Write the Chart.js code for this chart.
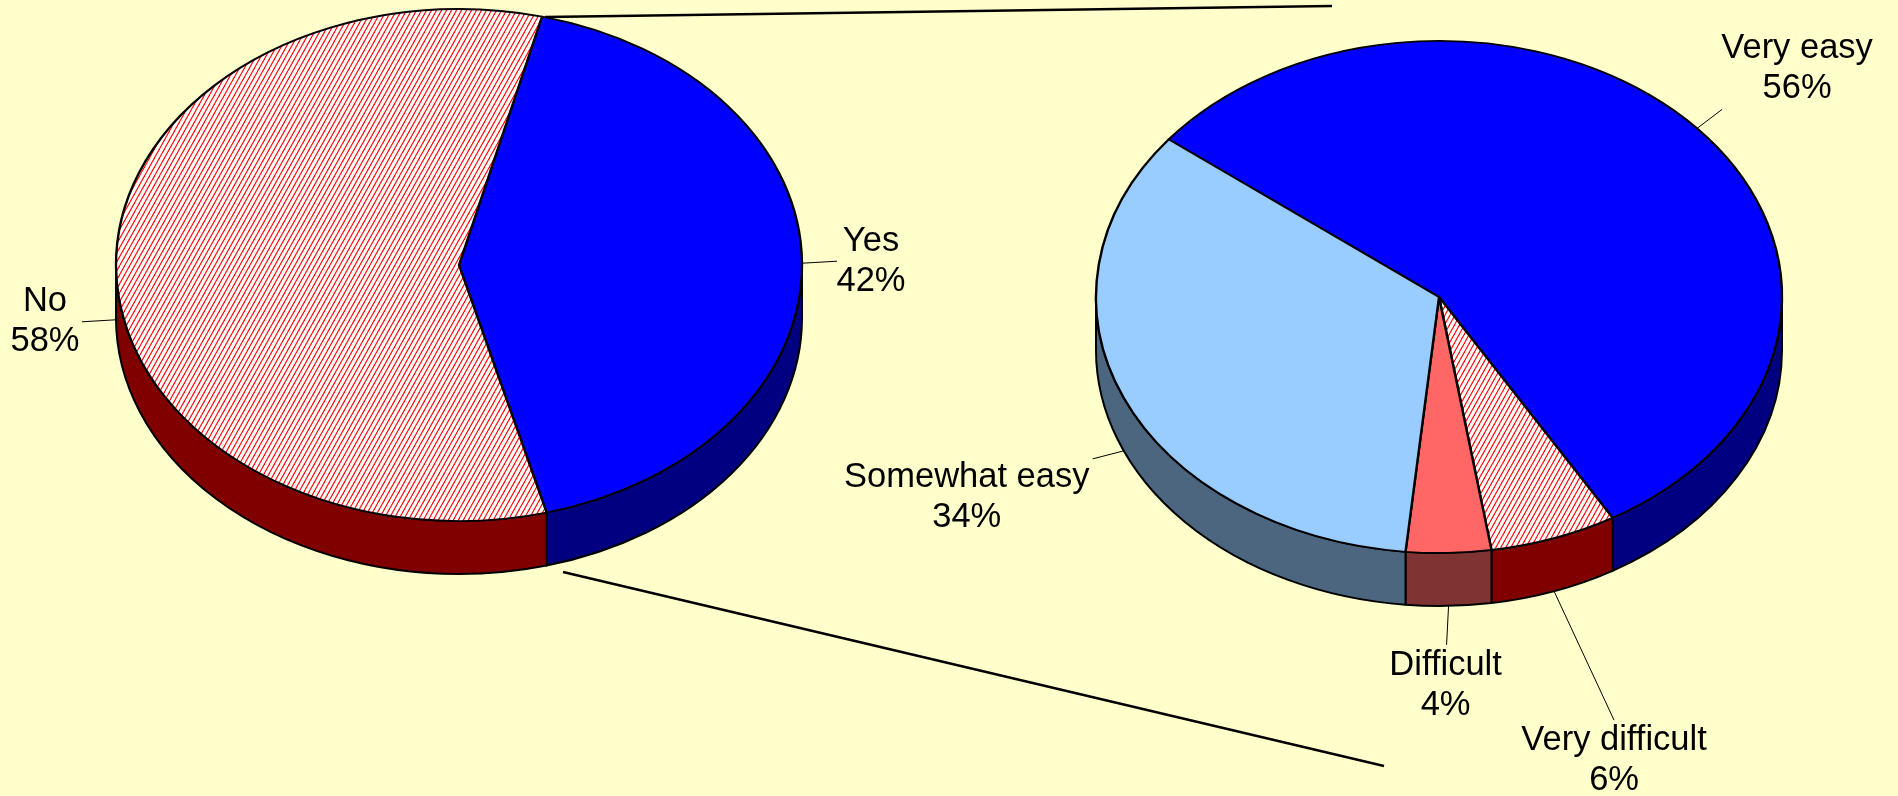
<!DOCTYPE html>
<html>
<head>
<meta charset="utf-8">
<script src="https://cdn.jsdelivr.net/npm/chart.js@4.4.1/dist/chart.umd.min.js"></script>
<style>
  html, body { margin: 0; padding: 0; background: #FFFFCC; overflow: hidden; }
  #wrap { position: relative; width: 1898px; height: 796px; }
  #wrap canvas { position: absolute; left: 0; top: 0; }
</style>
</head>
<body>
<div id="wrap">
  <canvas id="leftPie" width="1898" height="796"></canvas>
  <canvas id="rightPie" width="1898" height="796"></canvas>
</div>
<script>
// ---------- DATA ----------
const leftLabels = ["Yes", "No"];
const leftValues = [42, 58];

const rightLabels = ["Very easy", "Very difficult", "Difficult", "Somewhat easy"];
const rightValues = [56, 6, 4, 34];

// ---------- LOOK ----------
const FONT = '34.5px "Liberation Sans", Arial, sans-serif';
const RX = 343;      // outer radius (horizontal)
const RY = 256;      // flattened vertical radius
const DEPTH = 53;    // thickness of the pie
const K = RY / RX;

// hatched fill (red diagonal lines on white), kept undistorted on screen
function makeHatch() {
    const c = document.createElement("canvas");
    c.width = 5;
    c.height = 9;
    const g = c.getContext("2d");
    g.fillStyle = "#ffffff";
    g.fillRect(0, 0, 5, 9);
    g.strokeStyle = "#ff0000";
    g.lineWidth = 1.1;
    for (const o of [-5, 0, 5]) {
        g.beginPath();
        g.moveTo(o, 9);
        g.lineTo(o + 5, 0);
        g.stroke();
    }
    const p = g.createPattern(c, "repeat");
    p.setTransform(new DOMMatrix().scale(1, 1 / K));
    return p;
}
const hatch = makeHatch();

const leftColors = ["#0000FF", hatch];
const leftSides = ["#000080", "#800000"];
const rightColors = ["#0000FF", hatch, "#FF6666", "#99CCFF"];
const rightSides = ["#000080", "#800000", "#803333", "#4C6680"];

// label centre / leader end, relative to where the leader leaves the pie
const leftLabelPos = [[69, -2], [-71, 2]];
const leftLeaderEnd = [[35, -2], [-34, 2]];
const rightLabelPos = [[100, -60], [60, 169], [-3, 80], [-157, 47]];
const rightLeaderEnd = [[25, -19], [60, 129], [-2, 39], [-31, 8]];

// ---------- 3D PIE PLUGIN ----------
function pie3d(cfg) {
    return {
        id: "pie3d",
        beforeDatasetsDraw(chart) {
            const ctx = chart.ctx;
            const arcs = chart.getDatasetMeta(0).data;
            const cx = arcs[0].x;
            const cy0 = arcs[0].y;
            const r = arcs[0].outerRadius;
            const cy = cfg.cy;

            // side walls (only the front half is visible)
            ctx.save();
            ctx.lineWidth = 2;
            ctx.strokeStyle = "#000";
            ctx.lineJoin = "round";
            arcs.forEach((arc, i) => {
                for (const shift of [-2 * Math.PI, 0, 2 * Math.PI]) {
                    const a = Math.max(arc.startAngle, shift);
                    const b = Math.min(arc.endAngle, Math.PI + shift);
                    if (b <= a) continue;
                    ctx.beginPath();
                    ctx.ellipse(cx, cy, r, r * K, 0, a, b);
                    ctx.ellipse(cx, cy + cfg.depth, r, r * K, 0, b, a, true);
                    ctx.closePath();
                    ctx.fillStyle = cfg.sides[i];
                    ctx.fill();
                    ctx.stroke();
                }
            });
            ctx.restore();

            // flatten the top face
            ctx.save();
            ctx.translate(cx, cy);
            ctx.scale(1, K);
            ctx.translate(-cx, -cy0);
        },
        afterDatasetsDraw(chart) {
            const ctx = chart.ctx;
            ctx.restore();

            const arcs = chart.getDatasetMeta(0).data;
            const values = chart.data.datasets[0].data;
            const total = values.reduce((s, v) => s + v, 0);
            const cx = arcs[0].x;
            const r = arcs[0].outerRadius;

            ctx.save();
            ctx.font = FONT;
            ctx.fillStyle = "#000";
            ctx.textAlign = "center";
            ctx.textBaseline = "middle";
            arcs.forEach((arc, i) => {
                const m = (arc.startAngle + arc.endAngle) / 2;
                const ax = cx + r * Math.cos(m);
                const ay = cfg.cy + r * K * Math.sin(m) + (Math.sin(m) > 0 ? cfg.depth : 0);
                const le = cfg.leader[i];
                const lp = cfg.labels[i];

                ctx.strokeStyle = "#000";
                ctx.lineWidth = 1;
                ctx.beginPath();
                ctx.moveTo(ax, ay);
                ctx.lineTo(ax + le[0], ay + le[1]);
                ctx.stroke();

                const pct = Math.round(values[i] / total * 100) + "%";
                ctx.fillText(chart.data.labels[i], ax + lp[0], ay + lp[1] - 20);
                ctx.fillText(pct, ax + lp[0], ay + lp[1] + 20);
            });
            ctx.restore();
        },
        afterDraw(chart) {
            if (!cfg.connectors) return;
            const ctx = chart.ctx;
            ctx.save();
            ctx.strokeStyle = "#000";
            ctx.lineWidth = 2.5;
            cfg.connectors.forEach(([x1, y1, x2, y2]) => {
                ctx.beginPath();
                ctx.moveTo(x1, y1);
                ctx.lineTo(x2, y2);
                ctx.stroke();
            });
            ctx.restore();
        }
    };
}

function makePie(canvasId, labels, values, colors, rotation, padding, cfg) {
    return new Chart(document.getElementById(canvasId), {
        type: "pie",
        data: {
            labels,
            datasets: [{
                data: values,
                backgroundColor: colors,
                borderColor: "#000",
                borderWidth: 2.4,
                borderJoinStyle: "round"
            }]
        },
        plugins: [pie3d(cfg)],
        options: {
            responsive: false,
            animation: false,
            events: [],
            rotation,
            radius: RX,
            layout: { padding },
            plugins: {
                legend: { display: false },
                tooltip: { enabled: false }
            }
        }
    });
}

// ---------- INIT ----------
makePie("leftPie", leftLabels, leftValues, leftColors, 14,
    { left: 0, right: 980, top: 0, bottom: 0 },
    {
        cy: 265, depth: DEPTH, sides: leftSides,
        labels: leftLabelPos, leader: leftLeaderEnd,
        connectors: [[545, 17, 1332, 6], [563, 572, 1384, 766]]
    });

makePie("rightPie", rightLabels, rightValues, rightColors, -52,
    { left: 980, right: 0, top: 0, bottom: 0 },
    {
        cy: 297, depth: DEPTH, sides: rightSides,
        labels: rightLabelPos, leader: rightLeaderEnd
    });
</script>
</body>
</html>
